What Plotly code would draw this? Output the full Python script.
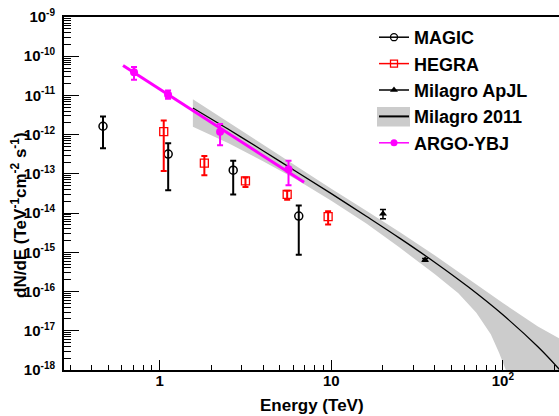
import plotly.graph_objects as go

# ---------------- data ----------------
magic_E = [0.467, 1.12, 2.68, 6.46]
magic_F = [1.64e-12, 3.2e-13, 1.24e-13, 8.4e-15]
magic_hi = [2.9e-12, 6.0e-13, 2.15e-13, 1.57e-14]
magic_lo = [4.5e-13, 3.8e-14, 3.0e-14, 8.7e-16]

hegra_E = [1.055, 1.82, 3.16, 5.53, 9.58]
hegra_F = [1.19e-12, 1.88e-13, 6.6e-14, 3.0e-14, 8.1e-15]
hegra_hi = [2.29e-12, 2.85e-13, 8.1e-14, 3.7e-14, 1.12e-14]
hegra_lo = [1.19e-13, 9.3e-14, 4.6e-14, 2.2e-14, 5.1e-15]

apjl_E = [20.0, 35.2]
apjl_F = [9.7e-15, 6.4e-16]
apjl_hi = [1.24e-14, 7.0e-16]
apjl_lo = [7.2e-15, 5.9e-16]

argo_E = [0.708, 1.118, 2.247, 5.63]
argo_F = [3.89e-11, 1.04e-11, 1.19e-12, 1.32e-13]
argo_hi = [5.35e-11, 1.34e-11, 1.88e-12, 2.15e-13]
argo_lo = [2.53e-11, 8.2e-12, 5.4e-13, 5.1e-14]

argo_fit_E = [0.611, 6.94]
argo_fit_F = [5.78e-11, 6.12e-14]

m2011_E = [1.56, 2.5, 4.0, 6.3, 10.0, 16.0, 25.0, 40.0, 63.0, 100.0, 160.0, 215.0]
m2011_F = [4.8e-12, 1.39e-12, 3.9e-13, 1.12e-13, 3.13e-14, 8.3e-15, 2.3e-15,
           5.6e-16, 1.3e-16, 2.55e-17, 3.9e-18, 1.0e-18]

band_up_E = [1.56, 2.5, 4.0, 6.3, 10.0, 16.0, 25.0, 40.0, 63.0, 100.0, 160.0, 215.0]
band_up_F = [8.0e-12, 2.1e-12, 5.5e-13, 1.55e-13, 4.2e-14, 1.15e-14, 3.3e-15,
             8.4e-16, 2.05e-16, 5.1e-17, 1.28e-17, 6.3e-18]
band_lo_E = [1.56, 2.5, 4.0, 6.3, 10.0, 16.0, 25.0, 40.0, 55.0, 70.0, 85.0, 95.0, 104.0, 110.0, 215.0]
band_lo_F = [1.6e-12, 6.1e-13, 2.1e-13, 7.1e-14, 2.07e-14, 5.4e-15, 1.32e-15,
             2.8e-16, 9.1e-17, 2.9e-17, 8.1e-18, 2.75e-18, 1.0e-18, 1.0e-19, 1.0e-19]

# axis tick labels (decade exponents)
y_exps = [-18, -17, -16, -15, -14, -13, -12, -11, -10, -9]
x_exps = [0, 1, 2]
x_labels = ["1", "10", "10<sup><span style='font-size:10px'>2</span></sup>"]

names = ["MAGIC", "HEGRA", "Milagro ApJL", "Milagro 2011", "ARGO-YBJ"]

FONT = "Liberation Sans"
MAG = "#ff00ff"
RED = "#ff0000"


def errs(v, hi, lo):
    return ([h - x for x, h in zip(v, hi)], [x - l for x, l in zip(v, lo)])


fig = go.Figure()

# Milagro 2011 band
fig.add_trace(go.Scatter(
    x=band_up_E + band_lo_E[::-1], y=band_up_F + band_lo_F[::-1],
    fill="toself", fillcolor="rgb(204,204,204)", mode="lines",
    line=dict(width=0, color="rgb(204,204,204)"), showlegend=False, hoverinfo="skip"))
# Milagro 2011 line
fig.add_trace(go.Scatter(
    x=m2011_E, y=m2011_F, mode="lines", line=dict(color="black", width=1.3, shape="spline"),
    showlegend=False))
# ARGO fit line
fig.add_trace(go.Scatter(
    x=argo_fit_E, y=argo_fit_F, mode="lines", line=dict(color=MAG, width=3),
    showlegend=False))

# data points
up, dn = errs(magic_F, magic_hi, magic_lo)
fig.add_trace(go.Scatter(
    x=magic_E, y=magic_F, mode="markers", showlegend=False,
    marker=dict(symbol="circle-open", size=8, color="black", line=dict(width=1.5, color="black")),
    error_y=dict(type="data", symmetric=False, array=up, arrayminus=dn,
                 color="black", thickness=2, width=3)))
up, dn = errs(hegra_F, hegra_hi, hegra_lo)
fig.add_trace(go.Scatter(
    x=hegra_E, y=hegra_F, mode="markers", showlegend=False,
    marker=dict(symbol="square-open", size=8, color=RED, line=dict(width=1.3, color=RED)),
    error_y=dict(type="data", symmetric=False, array=up, arrayminus=dn,
                 color=RED, thickness=2, width=3)))
up, dn = errs(apjl_F, apjl_hi, apjl_lo)
fig.add_trace(go.Scatter(
    x=apjl_E, y=apjl_F, mode="markers", showlegend=False,
    marker=dict(symbol="triangle-up", size=7, color="black"),
    error_y=dict(type="data", symmetric=False, array=up, arrayminus=dn,
                 color="black", thickness=1.5, width=3)))
up, dn = errs(argo_F, argo_hi, argo_lo)
fig.add_trace(go.Scatter(
    x=argo_E, y=argo_F, mode="markers", showlegend=False,
    marker=dict(symbol="circle", size=8, color=MAG),
    error_y=dict(type="data", symmetric=False, array=up, arrayminus=dn,
                 color=MAG, thickness=2, width=3)))

# legend proxies (no data)
leg_styles = [
    dict(mode="lines+markers", line=dict(color="black", width=1.5),
         marker=dict(symbol="circle-open", size=7, color="black", line=dict(width=1.3))),
    dict(mode="lines+markers", line=dict(color=RED, width=1.5),
         marker=dict(symbol="square-open", size=7, color=RED, line=dict(width=1.3))),
    dict(mode="lines+markers", line=dict(color="black", width=1.5),
         marker=dict(symbol="triangle-up", size=7, color="black")),
    dict(mode="lines", line=dict(color="black", width=2)),
    dict(mode="lines+markers", line=dict(color=MAG, width=1.5),
         marker=dict(symbol="circle", size=7, color=MAG)),
]
for i, (nm, st) in enumerate(zip(names, leg_styles)):
    fig.add_trace(go.Scatter(x=[None], y=[None], name=nm, showlegend=True,
                             legendgroup=str(i), **st))

# tick positions / texts
y_tickvals = [10.0 ** e for e in y_exps]
y_ticktext = ["10<sup><span style='font-size:10px'>-%d</span></sup>" % (-e) for e in y_exps]
y_minor = [k * 10.0 ** e for e in y_exps[:-1] for k in range(2, 10)]
x_tickvals = [10.0 ** e for e in x_exps]
x_minor = [k * 10.0 ** e for e in [-1, 0, 1, 2] for k in range(2, 10)]

L, R, T, B = 64, 0, 17, 46
W, H = 559, 416
pw, ph = W - L - R, H - T - B

fig.update_layout(
    width=W, height=H,
    margin=dict(l=L, r=R, t=T, b=B),
    paper_bgcolor="white", plot_bgcolor="white",
    font=dict(family=FONT, color="black", size=15, weight="bold"),
    showlegend=True,
    legend=dict(x=(374 - L) / pw, y=(H - B - 19) / ph, xanchor="left", yanchor="top",
                bgcolor="rgba(0,0,0,0)", borderwidth=0, tracegroupgap=0,
                font=dict(family=FONT, size=18, color="black", weight="bold"),
                itemwidth=30, traceorder="normal"),
    xaxis=dict(type="log", range=[-0.558, 2.327], showgrid=False, zeroline=False,
               showline=True, linecolor="black", linewidth=2, mirror=True,
               ticks="inside", ticklen=10, tickwidth=1, tickcolor="black",
               tickmode="array", tickvals=x_tickvals, ticktext=x_labels,
               tickfont=dict(family=FONT, size=15, weight="bold"), ticklabelstandoff=-4,
               minor=dict(ticks="inside", ticklen=5, tickwidth=1, tickcolor="black",
                          tickmode="array", tickvals=x_minor, showgrid=False)),
    yaxis=dict(type="log", range=[-18, -9], showgrid=False, zeroline=False,
               showline=True, linecolor="black", linewidth=2, mirror=False,
               ticks="inside", ticklen=15, tickwidth=1, tickcolor="black",
               tickmode="array", tickvals=y_tickvals, ticktext=y_ticktext,
               tickfont=dict(family=FONT, size=15, weight="bold"), ticklabelstandoff=4,
               minor=dict(ticks="inside", ticklen=7, tickwidth=1, tickcolor="black",
                          tickmode="array", tickvals=y_minor, showgrid=False)),
    annotations=[
        dict(text="Energy (TeV)", xref="paper", yref="paper",
             x=0.5, y=-(405 - (H - B)) / ph, xanchor="center", yanchor="middle",
             showarrow=False, font=dict(family=FONT, size=17, weight="bold")),
        dict(text="dN/dE (TeV<sup>-1</sup>cm<sup>-2</sup> s<sup>-1</sup>)",
             xref="paper", yref="paper", x=(19 - L) / pw, y=((H - B) - 215) / ph,
             xanchor="center", yanchor="middle", textangle=-90, showarrow=False,
             font=dict(family=FONT, size=17, weight="bold")),
    ],
    shapes=[
        dict(type="rect", xref="paper", yref="paper",
             x0=(377 - L) / pw, x1=(410 - L) / pw,
             y0=((H - B) - 126.5) / ph, y1=((H - B) - 107) / ph,
             fillcolor="rgb(204,204,204)", line=dict(width=0), layer="above"),
    ],
)

fig.write_html("out.html", config={"displayModeBar": False},
               post_script="document.body.style.margin='0';document.body.style.padding='0';")
